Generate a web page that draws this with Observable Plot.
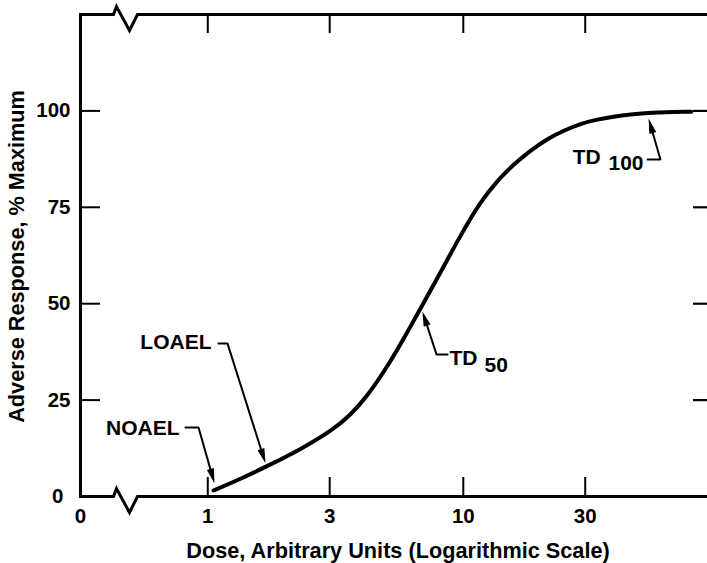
<!DOCTYPE html>
<html><head><meta charset="utf-8">
<script src="https://cdn.jsdelivr.net/npm/d3@7"></script>
<script src="https://cdn.jsdelivr.net/npm/@observablehq/plot@0.6"></script>
<style>
body{margin:0;background:#fff;}
svg{font-family:"Liberation Sans",Arial,Helvetica,sans-serif;}
</style></head><body><div id="chart"></div>
<script>
// ---- data ----
const dose     = [1.053, 1.343, 1.712, 2.306, 3.105, 3.618, 4.217, 5.05, 5.94, 6.8, 8.144, 9.75, 11.68, 13.61, 15.72, 18.32, 21.4, 24.7, 28.8, 33.5, 38.7, 45.1, 53.1, 78];
const response = [1.56, 4.54, 7.91, 12.19, 17.38, 21.14, 26.06, 33.71, 41.75, 48.76, 58.09, 67.74, 76.5, 81.95, 86.1, 89.73, 92.8, 94.9, 96.7, 97.8, 98.5, 99.1, 99.6, 99.8];

const xTickValues = [1, 3, 10, 30];
const yTickValues = [25, 50, 75, 100];
const xZeroLabel = "0";
const yZeroLabel = "0";
const xTitle = "Dose, Arbitrary Units (Logarithmic Scale)";
const yTitle = "Adverse Response, % Maximum";

// annotation labels
const labelText = ["NOAEL", "LOAEL", "TD", "TD"];
const labelDose = [0.775, 1.034, 8.83, 26.8];
const labelResp = [17.6, 39.9, 35.8, 87.9];
const subText = ["50", "100"];
const subDose = [12.1, 37.0];
const subResp = [34.0, 86.4];

// leader lines (last point = arrow tip)
const noaelLeaderDose = [0.818, 0.920, 1.062];
const noaelLeaderResp = [17.9, 17.9, 3.4];
const loaelLeaderDose = [1.101, 1.194, 1.682];
const loaelLeaderResp = [39.7, 39.7, 8.6];
const td50LeaderDose  = [8.68, 7.86, 6.92];
const td50LeaderResp  = [36.8, 36.8, 48.0];
const td100LeaderDose = [52.6, 59.1, 53.1];
const td100LeaderResp = [87.4, 87.4, 98.0];

// axis break location (dose at start of zigzag)
const breakDose = 0.4275;

// ---- layout ----
const W = 707, H = 563;
const mL = 80, mR = 0, mT = 14, mB = 67;
const xOpts = {type: "log", domain: [0.3176, 90.3], range: [mL, W - mR]};
const yOpts = {type: "linear", domain: [0, 125], range: [H - mB, mT]};
const sx = Plot.scale({x: xOpts});
const sy = Plot.scale({y: yOpts});
const X = v => sx.apply(v), Y = v => sy.apply(v);
const iX = p => sx.invert(p), iY = p => sy.invert(p);
const [xL, xR] = xOpts.domain;
const [y0, yT] = yOpts.domain;

// zigzag shape in px offsets
const zigDx = [0, 3, 16, 24];
const zigDy = [0, -8, 16, 0];
const bx = X(breakDose);
const framePts = [];
framePts.push([xR, y0]);
for (let i = zigDx.length - 1; i >= 0; i--) framePts.push([iX(bx + zigDx[i]), iY(Y(y0) + zigDy[i])]);
framePts.push([xL, y0]);
framePts.push([xL, yT]);
for (let i = 0; i < zigDx.length; i++) framePts.push([iX(bx + zigDx[i]), iY(Y(yT) + zigDy[i])]);
framePts.push([xR, yT]);

// leaders
const leaders = [
  [noaelLeaderDose, noaelLeaderResp],
  [loaelLeaderDose, loaelLeaderResp],
  [td50LeaderDose, td50LeaderResp],
  [td100LeaderDose, td100LeaderResp]
];
const HEAD_L = 15, HEAD_W = 3.6;
const leaderRows = [];
const heads = [];
leaders.forEach(([ds, rs], g) => {
  const n = ds.length;
  const px = ds.map(X), py = rs.map(Y);
  const dx = px[n - 1] - px[n - 2], dy = py[n - 1] - py[n - 2];
  const len = Math.hypot(dx, dy);
  for (let i = 0; i < n; i++) {
    let x = px[i], y = py[i];
    if (i === n - 1) { x -= dx / len * (HEAD_L - 2); y -= dy / len * (HEAD_L - 2); }
    leaderRows.push({g, dose: iX(x), resp: iY(y)});
  }
  heads.push({dose: ds[n - 1], resp: rs[n - 1], angle: Math.atan2(dx, -dy) * 180 / Math.PI});
});
const arrowHead = {draw(ctx) { ctx.moveTo(0, 0); ctx.lineTo(-HEAD_W, HEAD_L); ctx.lineTo(HEAD_W, HEAD_L); ctx.closePath(); }};

const FS = 21, TFS = 20.5, TTS = 21.7;
const bold = {fontWeight: "bold", fill: "black", fontFamily: "Liberation Sans, Arial, sans-serif"};
const tickLen = 19;

const chart = Plot.plot({
  width: W, height: H,
  marginLeft: mL, marginRight: mR, marginTop: mT, marginBottom: mB,
  x: {...xOpts, axis: null},
  y: {...yOpts, axis: null},
  style: {background: "#fff", overflow: "visible"},
  marks: [
    // ticks
    Plot.ruleX(xTickValues, {x: d => d, y1: y0, y2: iY(Y(y0) - tickLen), stroke: "black", strokeWidth: 2}),
    Plot.ruleX(xTickValues, {x: d => d, y1: yT, y2: iY(Y(yT) + tickLen), stroke: "black", strokeWidth: 2}),
    Plot.ruleY(yTickValues, {y: d => d, x1: xL, x2: iX(X(xL) + 20), stroke: "black", strokeWidth: 2}),
    Plot.ruleY(yTickValues, {y: d => d, x1: iX(X(xR) - 14), x2: xR, stroke: "black", strokeWidth: 2.2}),
    // frame with breaks
    Plot.line(framePts, {x: d => d[0], y: d => d[1], stroke: "black", strokeWidth: 3, strokeLinejoin: "miter", strokeMiterlimit: 10}),
    // curve
    Plot.line(dose, {x: dose, y: response, stroke: "black", strokeWidth: 4, curve: "basis"}),
    // leaders & heads
    Plot.line(leaderRows, {x: "dose", y: "resp", z: "g", stroke: "black", strokeWidth: 2, strokeLinejoin: "miter"}),
    Plot.dot(heads, {x: "dose", y: "resp", rotate: "angle", symbol: arrowHead, fill: "black", stroke: "none", r: 5}),
    // annotation text
    Plot.text(labelText.slice(0, 2), {x: labelDose.slice(0, 2), y: labelResp.slice(0, 2), text: d => d, textAnchor: "end", fontSize: FS, ...bold}),
    Plot.text(labelText.slice(2), {x: labelDose.slice(2), y: labelResp.slice(2), text: d => d, textAnchor: "start", fontSize: FS, ...bold}),
    Plot.text(subText, {x: subDose, y: subResp, text: d => d, textAnchor: "start", fontSize: FS, ...bold}),
    // tick labels
    Plot.text(xTickValues, {x: d => d, frameAnchor: "bottom", dy: 20, lineAnchor: "middle", textAnchor: "middle", text: d => String(d), fontSize: TFS, ...bold}),
    Plot.text([xZeroLabel], {x: xL, frameAnchor: "bottom", dy: 20, lineAnchor: "middle", textAnchor: "middle", text: d => d, fontSize: TFS, ...bold}),
    Plot.text(yTickValues, {y: d => d, frameAnchor: "left", dx: -10, textAnchor: "end", lineAnchor: "middle", text: d => String(d), fontSize: TFS, ...bold}),
    Plot.text([yZeroLabel], {y: y0, frameAnchor: "left", dx: -17, textAnchor: "end", lineAnchor: "middle", text: d => d, fontSize: TFS, ...bold}),
    // titles
    Plot.text([xTitle], {frameAnchor: "bottom", dy: 55, dx: 4, lineAnchor: "middle", textAnchor: "middle", text: d => d, fontSize: TTS, ...bold}),
    Plot.text([yTitle], {frameAnchor: "left", dx: -63, dy: 1, rotate: -90, lineAnchor: "middle", textAnchor: "middle", text: d => d, fontSize: TTS, ...bold})
  ]
});
document.getElementById("chart").appendChild(chart);
</script>
</body></html>
